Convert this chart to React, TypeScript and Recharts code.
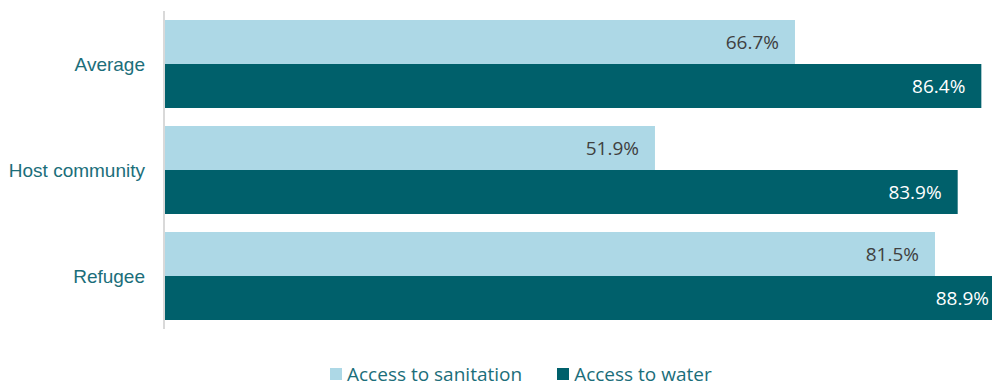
import React from 'react';
import { BarChart, Bar, XAxis, YAxis, Legend, LabelList } from 'recharts';

const groups = ['Average', 'Host community', 'Refugee'];
const sanitation = [66.7, 51.9, 81.5];
const water = [86.4, 83.9, 88.9];

const data = groups.map((name, i) => ({ name, sanitation: sanitation[i], water: water[i] }));

const LIGHT = '#add8e6';
const DARK = '#00606b';
const TEAL = '#1b6e7a';
const LABEL_FONT = '"Open Sans", sans-serif';

const fmt = (v: any) => `${v}%`;

const LegendContent = (props: any) => {
    const { payload = [] } = props;
    return (
        <div style={{ height: 20, display: 'flex', alignItems: 'center', paddingLeft: 330 }}>
            {payload.map((entry: any) => (
                <div key={entry.value} style={{ display: 'flex', alignItems: 'center', marginRight: 35 }}>
                    <span style={{ width: 12, height: 12, background: entry.color, display: 'inline-block', marginRight: 5 }} />
                    <span style={{ color: TEAL, fontFamily: LABEL_FONT, fontSize: 19, lineHeight: '20px' }}>{entry.value}</span>
                </div>
            ))}
        </div>
    );
};

const App: React.FC = () => {
    return (
        <div style={{ position: 'fixed', left: 0, top: 0, width: 992, height: 388, overflow: 'hidden', background: '#fff' }}>
            <BarChart
                width={1110}
                height={388}
                data={data}
                layout="vertical"
                margin={{ top: 11, right: 0, left: 0, bottom: 39 }}
                barCategoryGap={9}
                barGap={0}
            >
                <XAxis type="number" domain={[0, 100]} hide />
                <YAxis
                    type="category"
                    dataKey="name"
                    width={164}
                    tickLine={false}
                    tickMargin={13}
                    axisLine={{ stroke: '#d9d9d9', strokeWidth: 2 }}
                    tick={{ fill: TEAL, fontSize: 19, fontFamily: '"Liberation Sans", Arial, sans-serif' }}
                />
                <Legend
                    verticalAlign="bottom"
                    content={<LegendContent />}
                    wrapperStyle={{ top: 364, left: 0, width: 992 }}
                />
                <Bar dataKey="sanitation" name="Access to sanitation" fill={LIGHT} isAnimationActive={false}>
                    <LabelList dataKey="sanitation" position="insideRight" offset={16} formatter={fmt}
                        fill="#404040" fontSize={19} fontFamily={LABEL_FONT} />
                </Bar>
                <Bar dataKey="water" name="Access to water" fill={DARK} isAnimationActive={false}>
                    <LabelList dataKey="water" position="insideRight" offset={16} formatter={fmt}
                        fill="#ffffff" fontSize={19} fontFamily={LABEL_FONT} />
                </Bar>
            </BarChart>
        </div>
    );
};

export default App;
